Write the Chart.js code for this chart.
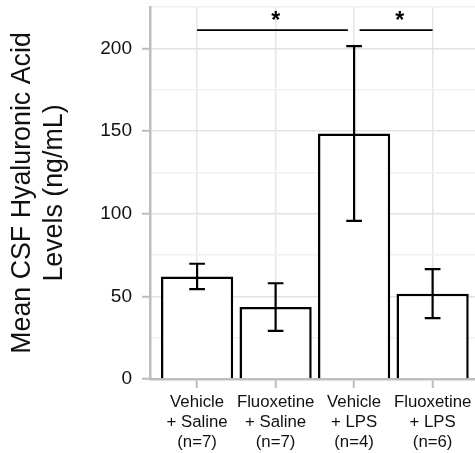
<!DOCTYPE html>
<html>
<head>
<meta charset="utf-8">
<script src="https://cdn.jsdelivr.net/npm/chart.js@4.4.1/dist/chart.umd.min.js"></script>
<style>
  html,body{margin:0;padding:0;background:#fff;}
  canvas{display:block;}
</style>
</head>
<body>
<canvas id="csfChart" width="475" height="453"></canvas>
<script>
// --- Group data ---
const groups = [
  ['Vehicle', '+ Saline', '(n=7)'],
  ['Fluoxetine', '+ Saline', '(n=7)'],
  ['Vehicle', '+ LPS', '(n=4)'],
  ['Fluoxetine', '+ LPS', '(n=6)']
];
const means  = [62, 43.5, 148.5, 51.6];
const errors = [7.7, 14.4, 52.8, 14.8];   // +/- SEM

// significance brackets (x in group units, 1 = first group)
const sigStart = [1, 3.07];
const sigEnd   = [2.92, 4];
const sigStar  = [2, 3.58];
const sigLabel = ['*', '*'];
const sigLevel = 211;

const yTitle = ['Mean CSF Hyaluronic Acid', 'Levels (ng/mL)'];

const FONT = "'Liberation Sans', Arial, Helvetica, sans-serif";
const AXIS_GREY = '#bdbdbd';
const isMajor = c => c.tick && c.tick.value % 50 === 0;

// --- Error bars + significance brackets ---
const annotations = {
  id: 'annotations',
  afterDatasetsDraw(chart){
    const {ctx, scales:{x, y}} = chart;
    const capHalf = x.getPixelForValue(1.1) - x.getPixelForValue(1);
    ctx.save();
    ctx.strokeStyle = '#000';
    ctx.lineWidth = 2.2;
    means.forEach((m, i)=>{
      const px  = x.getPixelForValue(i + 1);
      const top = y.getPixelForValue(m + errors[i]);
      const bot = y.getPixelForValue(m - errors[i]);
      ctx.beginPath();
      ctx.moveTo(px, top); ctx.lineTo(px, bot);
      ctx.moveTo(px - capHalf, top); ctx.lineTo(px + capHalf, top);
      ctx.moveTo(px - capHalf, bot); ctx.lineTo(px + capHalf, bot);
      ctx.stroke();
    });
    const ly = y.getPixelForValue(sigLevel);
    ctx.lineWidth = 1.7;
    ctx.fillStyle = '#000';
    ctx.font = `bold 23px ${FONT}`;
    ctx.textAlign = 'center';
    ctx.textBaseline = 'alphabetic';
    sigStart.forEach((s, i)=>{
      ctx.beginPath();
      ctx.moveTo(x.getPixelForValue(s), ly);
      ctx.lineTo(x.getPixelForValue(sigEnd[i]), ly);
      ctx.stroke();
      ctx.fillText(sigLabel[i], x.getPixelForValue(sigStar[i]), ly - 2);
    });
    ctx.restore();
  }
};

new Chart(document.getElementById('csfChart'), {
  type: 'bar',
  data: {
    datasets: [{
      data: means.map((m, i)=>({x: i + 1, y: m})),
      backgroundColor: '#fff',
      borderColor: '#000',
      borderWidth: 2.5,
      borderSkipped: 'start',
      categoryPercentage: 0.92,
      barPercentage: 1
    }]
  },
  options: {
    responsive: false,
    animation: false,
    layout: { padding: {top: 7, right: 0, bottom: 0, left: 0} },
    plugins: { legend: {display: false}, tooltip: {enabled: false} },
    scales: {
      x: {
        type: 'linear', min: 0.4, max: 4.54, offset: false,
        afterBuildTicks: s => { s.ticks = groups.map((_, i)=>({value: i + 1})); },
        afterFit: s => { s.height = 74; s.paddingLeft = 0; s.paddingRight = 0; },
        grid: { offset: false, color: '#e6e6e6', lineWidth: 1.5, tickLength: 9, tickColor: AXIS_GREY, tickWidth: 2 },
        border: { color: AXIS_GREY, width: 2.5 },
        ticks: {
          callback: v => groups[v - 1],
          font: {family: FONT, size: 16.8, lineHeight: 1.17},
          color: '#111', padding: 5, maxRotation: 0, autoSkip: false
        }
      },
      y: {
        min: 0, max: 225,
        afterFit: s => { s.width = 150; s.paddingTop = 0; s.paddingBottom = 0; },
        ticks: {
          stepSize: 25,
          callback: v => v % 50 === 0 ? v : '',
          font: {family: FONT, size: 19},
          color: '#111', padding: 10
        },
        grid: {
          color: c => isMajor(c) ? '#e3e3e3' : '#f1f1f1',
          lineWidth: 1.5, tickLength: 8, tickWidth: 2,
          tickColor: c => isMajor(c) ? AXIS_GREY : 'rgba(0,0,0,0)'
        },
        border: { color: AXIS_GREY, width: 2.5 },
        title: {
          display: true, text: yTitle, color: '#111',
          font: {family: FONT, size: 26.8, lineHeight: 32 / 26.8},
          padding: {top: 7, bottom: 0}
        }
      }
    }
  },
  plugins: [annotations]
});
</script>
</body>
</html>
